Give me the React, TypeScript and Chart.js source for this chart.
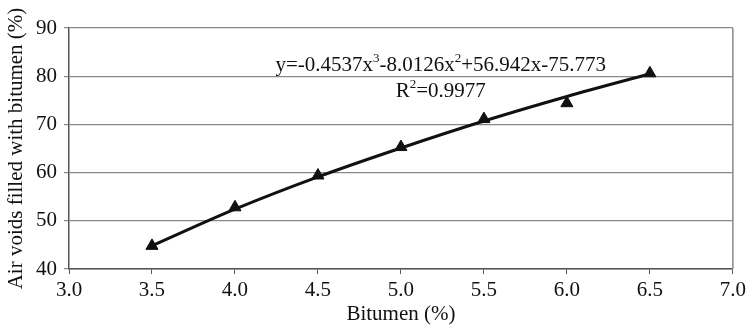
import React, { useEffect, useRef } from "react";
import { Chart, registerables } from "chart.js";

Chart.register(...registerables);

const bitumen = [3.5, 4.0, 4.5, 5.0, 5.5, 6.0, 6.5];
const vfb = [44.8, 52.8, 59.4, 65.3, 71.1, 74.4, 80.6];
const trendX = [3.5, 4.0, 4.5, 5.0, 5.5, 6.0, 6.5];
const trendY = [44.8, 52.4, 59.1, 65.1, 70.7, 75.8, 80.5];
const xTicks = [3.0, 3.5, 4.0, 4.5, 5.0, 5.5, 6.0, 6.5, 7.0];
const yTicks = [40, 50, 60, 70, 80, 90];
const eqParts = ["y=-0.4537x", "3", "-8.0126x", "2", "+56.942x-75.773"];
const r2Parts = ["R", "2", "=0.9977"];

const FONT = "'Liberation Serif', 'Times New Roman', serif";

const textPlugin = {
  id: "eqText",
  afterDatasetsDraw(chart: any) {
    const ctx = chart.ctx;
    const xs = chart.scales.x;
    const ys = chart.scales.y;
    const drawParts = (parts: string[], cx: number, cy: number) => {
      const big = "21px " + FONT;
      const small = "13px " + FONT;
      let total = 0;
      parts.forEach((p, i) => {
        ctx.font = i % 2 === 1 ? small : big;
        total += ctx.measureText(p).width;
      });
      let x = cx - total / 2;
      ctx.fillStyle = "#111";
      ctx.textBaseline = "alphabetic";
      ctx.textAlign = "left";
      parts.forEach((p, i) => {
        const sup = i % 2 === 1;
        ctx.font = sup ? small : big;
        ctx.fillText(p, x, sup ? cy - 9 : cy);
        x += ctx.measureText(p).width;
      });
    };
    ctx.save();
    drawParts(eqParts, xs.getPixelForValue(5.24), ys.getPixelForValue(81.0));
    drawParts(r2Parts, xs.getPixelForValue(5.24), ys.getPixelForValue(75.6));
    ctx.restore();
  },
};

export default function App() {
  const ref = useRef<HTMLCanvasElement>(null);
  useEffect(() => {
    if (!ref.current) return;
    const chart = new Chart(ref.current, {
      type: "scatter",
      data: {
        datasets: [
          {
            type: "line",
            data: trendX.map((x, i) => ({ x, y: trendY[i] })),
            borderColor: "#111",
            borderWidth: 3,
            pointRadius: 0,
            cubicInterpolationMode: "monotone",
            fill: false,
          } as any,
          {
            data: bitumen.map((x, i) => ({ x, y: vfb[i] })),
            pointStyle: "triangle",
            pointRadius: 7,
            backgroundColor: "#111",
            borderColor: "#111",
            borderWidth: 1,
            showLine: false,
          },
        ],
      },
      options: {
        animation: false,
        responsive: true,
        maintainAspectRatio: false,
        layout: { padding: { left: 0, right: 15, top: 28, bottom: 0 } },
        plugins: { legend: { display: false }, tooltip: { enabled: false } },
        scales: {
          x: {
            type: "linear",
            min: 3,
            max: 7,
            afterBuildTicks: (s: any) => {
              s.ticks = xTicks.map((v) => ({ value: v }));
            },
            afterFit: (s: any) => {
              s.height = 60;
            },
            ticks: {
              color: "#111",
              font: { family: FONT, size: 21 },
              padding: 4,
              callback: (v: any) => Number(v).toFixed(1),
              maxRotation: 0,
            },
            grid: { display: true, drawOnChartArea: false, tickLength: 5, color: "#555" },
            border: { color: "#555", width: 1.5 },
            title: {
              display: true,
              text: "Bitumen (%)",
              color: "#111",
              font: { family: FONT, size: 21 },
              padding: { top: 0, bottom: 2 },
            },
          },
          y: {
            type: "linear",
            min: 40,
            max: 90,
            afterBuildTicks: (s: any) => {
              s.ticks = yTicks.map((v) => ({ value: v }));
            },
            afterFit: (s: any) => {
              s.width = 69;
            },
            ticks: {
              color: "#111",
              font: { family: FONT, size: 21 },
              padding: 7,
            },
            grid: { color: "#888", lineWidth: 1.2, tickLength: 5 },
            border: { color: "#555", width: 1.5 },
            title: {
              display: true,
              text: "Air voids filled with bitumen (%)",
              color: "#111",
              font: { family: FONT, size: 21 },
              padding: { top: 4, bottom: 0 },
            },
          },
        },
      },
      plugins: [
        textPlugin,
        {
          id: "rightBorder",
          afterDraw(c: any) {
            const a = c.chartArea;
            const ctx = c.ctx;
            ctx.save();
            ctx.strokeStyle = "#888";
            ctx.lineWidth = 1.5;
            ctx.beginPath();
            ctx.moveTo(a.right, a.top);
            ctx.lineTo(a.right, a.bottom);
            ctx.stroke();
            ctx.restore();
          },
        },
      ],
    });
    return () => chart.destroy();
  }, []);
  return (
    <div style={{ position: "fixed", left: 0, top: 0, width: 750, height: 329, background: "#fff" }}>
      <canvas ref={ref} />
    </div>
  );
}
